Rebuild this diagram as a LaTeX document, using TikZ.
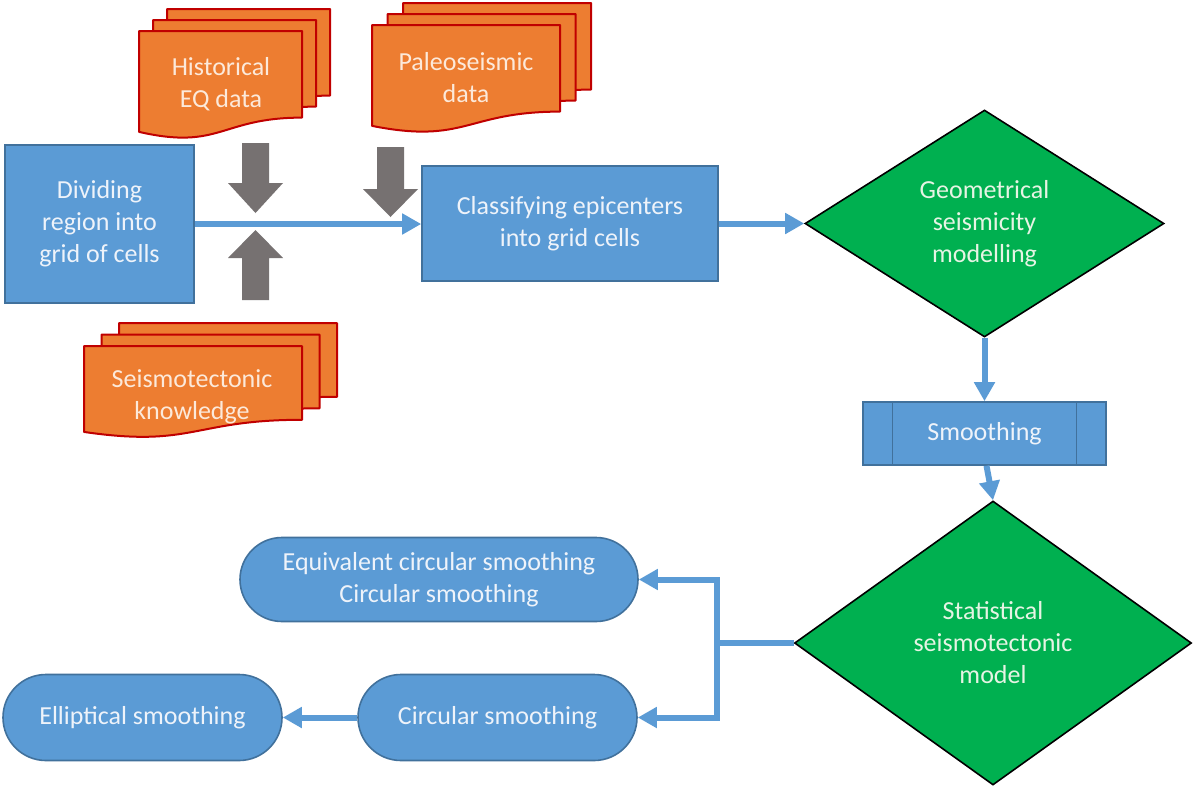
\documentclass[tikz,border=0pt]{standalone}
\usepackage{fontspec}
\setmainfont{Carlito}
\usetikzlibrary{shapes.geometric,shapes.misc,arrows.meta,calc}

\definecolor{boxblue}{HTML}{5B9BD5}
\definecolor{boxedge}{HTML}{41719C}
\definecolor{docfill}{HTML}{ED7D31}
\definecolor{docedge}{HTML}{C00000}
\definecolor{decgreen}{HTML}{00B050}
\definecolor{blockgray}{HTML}{767171}
\definecolor{paletext}{HTML}{EEF3FA}
\definecolor{creamtext}{HTML}{FCE9DA}
\definecolor{mintext}{HTML}{E6F4E4}

% one sheet of a stacked document: x, y (top-left), width, height
\newcommand\docsheet[4]{%
  \pgfmathsetmacro\dR{#1+#3}\pgfmathsetmacro\dM{#1+0.5*#3}%
  \pgfmathsetmacro\dA{#2+0.802*#4}\pgfmathsetmacro\dB{#2+1.107*#4}%
  \pgfmathsetmacro\dC{#2+0.934*#4}%
  \filldraw[docsheetstyle] (#1,#2) -- (\dR,#2) -- (\dR,\dA)
    .. controls (\dM,\dA) and (\dM,\dB) .. (#1,\dC) -- cycle;}
% three sheets, back to front: x, y, width, height, x-offset, y-offset
\newcommand\docstack[6]{%
  \pgfmathsetmacro\sxa{#1+2*#5}\pgfmathsetmacro\sya{#2-2*#6}%
  \pgfmathsetmacro\sxb{#1+#5}\pgfmathsetmacro\syb{#2-#6}%
  \edef\tmpa{\noexpand\docsheet{\sxa}{\sya}{#3}{#4}}\tmpa
  \edef\tmpb{\noexpand\docsheet{\sxb}{\syb}{#3}{#4}}\tmpb
  \docsheet{#1}{#2}{#3}{#4}}

\tikzset{
  docsheetstyle/.style={fill=docfill, draw=docedge, line width=2pt, line join=round},
  doctext/.style={text=creamtext, align=center, inner sep=0pt},
  procbox/.style={rectangle, draw=boxedge, fill=boxblue, line width=1.6pt,
    text=paletext, align=center, inner sep=0pt},
  decision/.style={diamond, draw=black, fill=decgreen, line width=1.6pt,
    text=mintext, align=center, inner sep=0pt},
  terminal/.style={rounded rectangle, draw=boxedge, fill=boxblue, line width=1.6pt,
    text=paletext, align=center, inner sep=0pt},
  blockarrow/.style={fill=blockgray, draw=none},
  link/.style={draw=boxblue, line width=6pt},
  flow/.style={link, -{Triangle[length=19pt,width=20pt]}},
}

\begin{document}
\begin{tikzpicture}[x=1pt, y=-1pt, font=\fontsize{26}{32}\selectfont]
\useasboundingbox (0,0) rectangle (1194,785);
\fill[white] (0,0) rectangle (1194,785);

% input document stacks
\docstack{139}{31}{163}{108}{14}{11}
\node[doctext] (hist) at (221,84) {Historical\\EQ data};
\docstack{372}{25}{188}{108}{15.5}{11}
\node[doctext] (paleo) at (466,78) {Paleoseismic\\data};
\docstack{84}{346}{218}{92}{17.5}{11.5}
\node[doctext] (tecto) at (192,397) {Seismotectonic\\knowledge};

% grey block arrows feeding the main line
\fill[blockarrow] (242,143) -- (269,143) -- (269,183) -- (283,183) -- (255.5,213)
  -- (228,183) -- (242,183) -- cycle;
\fill[blockarrow] (242,300) -- (269,300) -- (269,258) -- (283,258) -- (255.5,230)
  -- (228,258) -- (242,258) -- cycle;
\fill[blockarrow] (377,147) -- (404,147) -- (404,189) -- (418,189) -- (390.5,217)
  -- (363,189) -- (377,189) -- cycle;

% process steps
\node[procbox, minimum width=189pt, minimum height=158pt] (divide) at (99.5,224)
  {Dividing\\region into\\grid of cells};
\node[procbox, minimum width=296pt, minimum height=115pt] (classify) at (570,223.5)
  {Classifying epicenters\\into grid cells};
\node[decision, minimum width=359pt, minimum height=227pt] (geo) at (984.5,223.5)
  {Geometrical\\seismicity\\modelling};
\node[procbox, minimum width=243pt, minimum height=63pt] (smooth) at (984.5,433.5)
  {Smoothing};
\draw[boxedge, line width=1.3pt] ([xshift=30pt]smooth.north west) -- ([xshift=30pt]smooth.south west);
\draw[boxedge, line width=1.3pt] ([xshift=-30pt]smooth.north east) -- ([xshift=-30pt]smooth.south east);
\node[decision, minimum width=397pt, minimum height=284pt] (stat) at (993,643)
  {Statistical\\seismotectonic\\model};

% smoothing variants
\node[terminal, minimum width=398pt, minimum height=84pt] (equiv) at (439,579.5)
  {Equivalent circular smoothing\\Circular smoothing};
\node[terminal, minimum width=279pt, minimum height=86pt] (circ) at (497.5,717.5)
  {Circular smoothing};
\node[terminal, minimum width=279pt, minimum height=86pt] (ellip) at (142.5,717.5)
  {Elliptical smoothing};

% connectors
\coordinate (split) at (717,643);
\draw[flow] (divide.east) -- (divide.east -| classify.west);
\draw[flow] (classify.east) -- (geo.west);
\draw[flow] (geo.south) -- (smooth.north);
\draw[flow] ([xshift=2pt]smooth.south) -- (stat.north);
\draw[link] (stat.west) -- (split);
\draw[flow] (split) |- (equiv.east);
\draw[flow] (split) |- (circ.east);
\draw[flow] (circ.west) -- (ellip.east);
\end{tikzpicture}
\end{document}
